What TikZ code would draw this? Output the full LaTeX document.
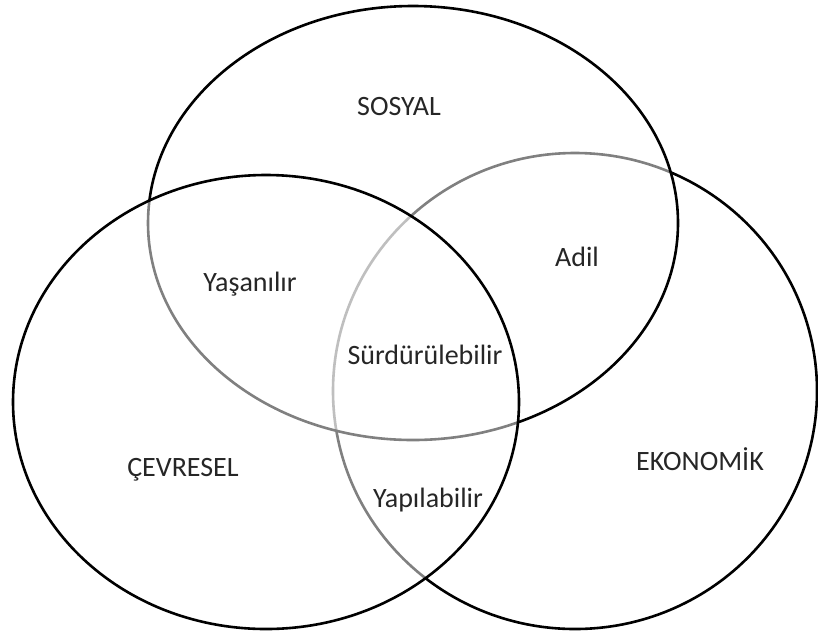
\documentclass[tikz,border=0pt]{standalone}
\usepackage{fontspec}
\setmainfont{Carlito}
\usetikzlibrary{positioning}
\tikzset{
	set/.style={draw=black, line width=1.3pt, fill=white, fill opacity=0.5, draw opacity=1},
	lbl/.style={anchor=base, inner sep=0pt, font=\fontsize{14}{16}\selectfont, text=black!85},
}

\begin{document}
\begin{tikzpicture}[x=0.5pt, y=-0.5pt]
	\useasboundingbox (0,0) rectangle (818,633);

% Three sets, bottom one first
		\draw[line width=1.3pt] (575,391) ellipse (242 and 238);
		\path[set] (413,223) ellipse (265 and 217);
		\path[set] (266,402) ellipse (253 and 227);

% Set names
		\node[lbl] (sosyal) at (399,115) {SOSYAL};
		\node[lbl] (cevresel) at (183,476) {ÇEVRESEL};
		\node[lbl] (ekonomik) at (700,470) {EKONOMİK};

% Overlaps
		\node[lbl] (yasanilir) at (250,291) {Yaşanılır};
		\node[lbl] (adil) at (577,266) {Adil};
		\node[lbl] (yapilabilir) at (428,507) {Yapılabilir};
		\node[lbl] (surdurulebilir) at (425,364) {Sürdürülebilir};
	\end{tikzpicture}
\end{document}
